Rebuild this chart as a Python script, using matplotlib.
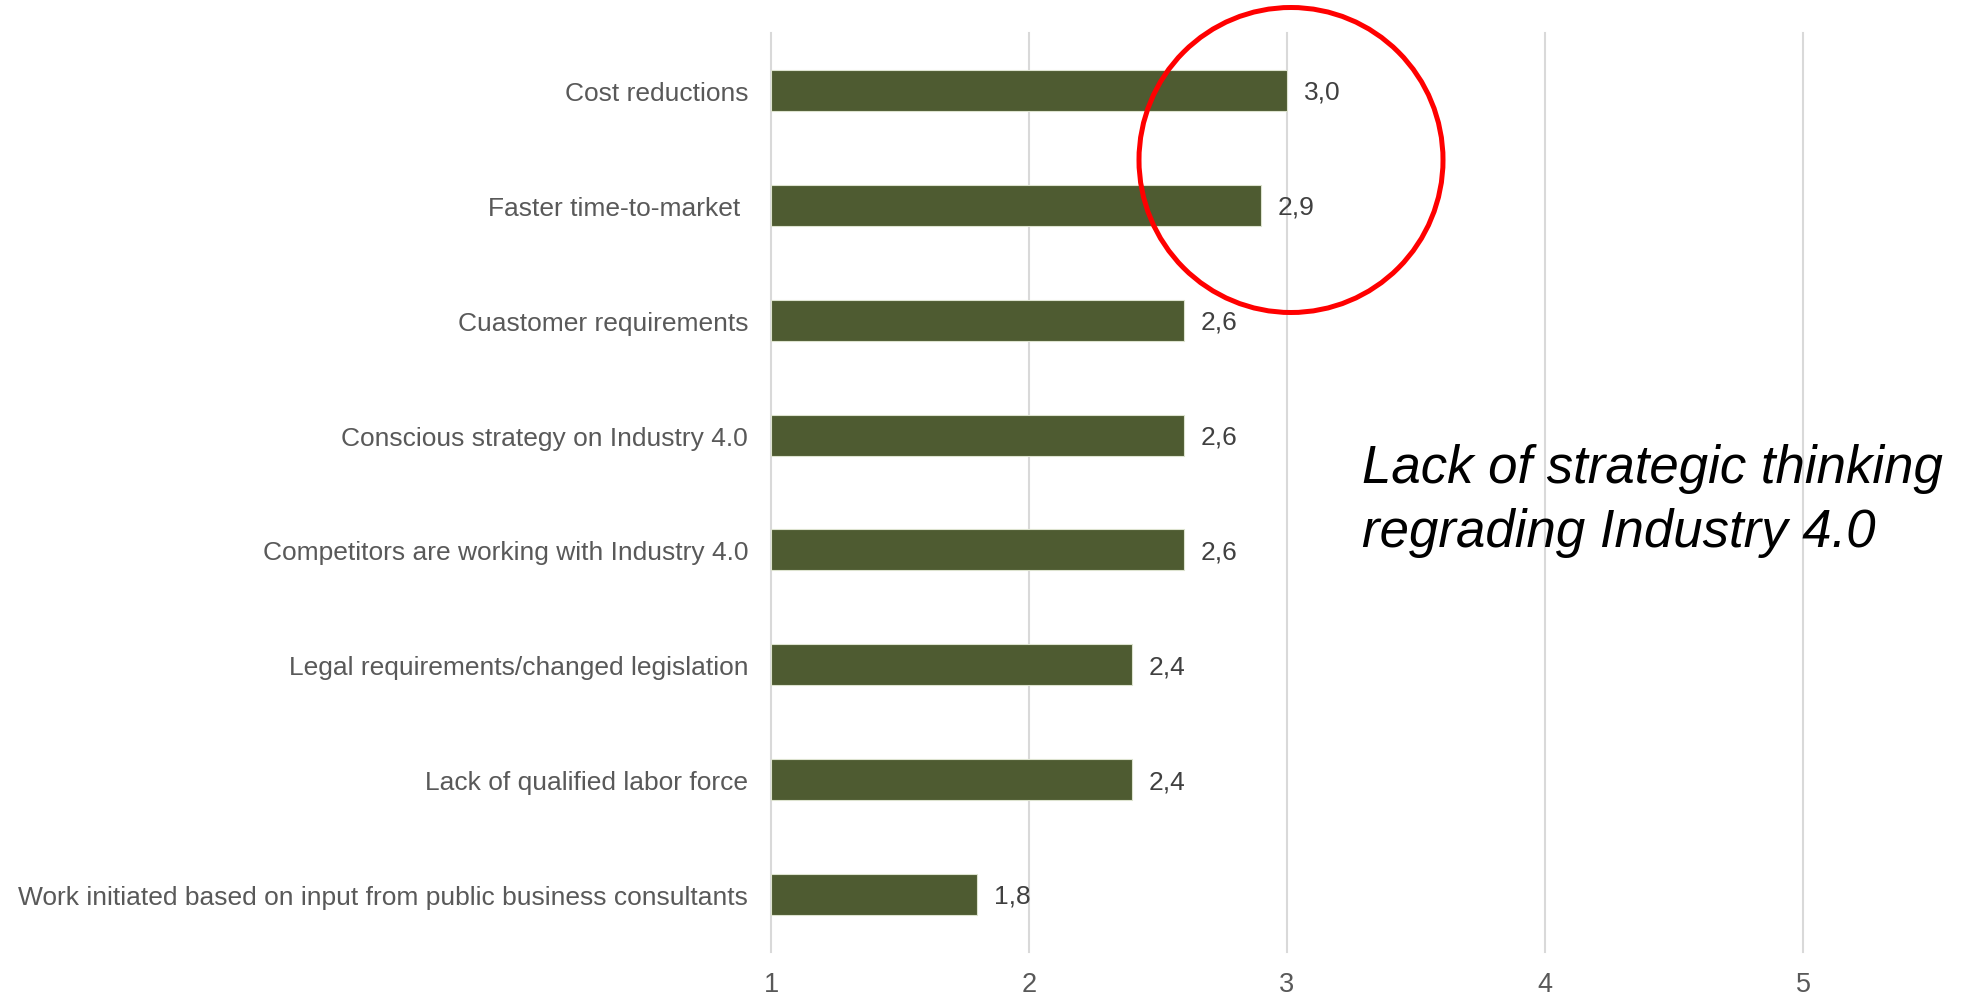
import matplotlib
matplotlib.use("Agg")
import matplotlib.pyplot as plt
from matplotlib.patches import Ellipse

plt.rcParams['font.family'] = ['Liberation Sans', 'DejaVu Sans']

categories = [
    "Cost reductions",
    "Faster time-to-market ",
    "Cuastomer requirements",
    "Conscious strategy on Industry 4.0",
    "Competitors are working with Industry 4.0",
    "Legal requirements/changed legislation",
    "Lack of qualified labor force",
    "Work initiated based on input from public business consultants",
]
values = [3.0, 2.9, 2.6, 2.6, 2.6, 2.4, 2.4, 1.8]
xticks = [1, 2, 3, 4, 5]
annotation = "Lack of strategic thinking\nregrading Industry 4.0"

W, H = 1966, 995
fig = plt.figure(figsize=(W / 100, H / 100), dpi=100)
ax = fig.add_axes([771 / W, 1 - 953 / H, (1803 - 771) / W, (953 - 34) / H])

ypos = list(range(len(categories)))
ax.barh(ypos, [v - xticks[0] for v in values], left=xticks[0], height=0.357,
        color="#4E5B31", edgecolor="#DDE3CF", linewidth=0.8, zorder=3)

ax.set_xlim(xticks[0], xticks[-1])
ax.set_ylim(len(categories) - 0.5, -0.5)
ax.set_xticks(xticks)
ax.set_xticklabels([str(t) for t in xticks])
ax.set_yticks(ypos)
ax.set_yticklabels(categories)
ax.tick_params(axis='x', length=0, pad=14, labelsize=19.5, labelcolor="#595959")
ax.tick_params(axis='y', length=0, pad=16.5, labelsize=19, labelcolor="#595959")
for s in ax.spines.values():
    s.set_visible(False)
ax.set_axisbelow(True)
ax.xaxis.grid(True, color="#D9D9D9", linewidth=1.5)
ax.yaxis.grid(False)
for gl in ax.get_xgridlines():
    gl.set_clip_on(False)

for y, v in zip(ypos, values):
    ax.annotate(f"{v:.1f}".replace('.', ','), xy=(v, y), xytext=(12, -1),
                textcoords="offset points", va="center", ha="left",
                fontsize=19, color="#404040")

circ = Ellipse((1291 / W, 1 - 161 / H), 304 / W, 305 / H, transform=fig.transFigure,
               fill=False, edgecolor="#FF0000", linewidth=3.6, zorder=10)
fig.add_artist(circ)

fig.text(1362 / W, 1 - 501 / H, annotation, fontsize=38, style="italic",
         color="black", ha="left", va="center", linespacing=1.34)

fig.savefig("out.png", dpi=100, facecolor="white")
